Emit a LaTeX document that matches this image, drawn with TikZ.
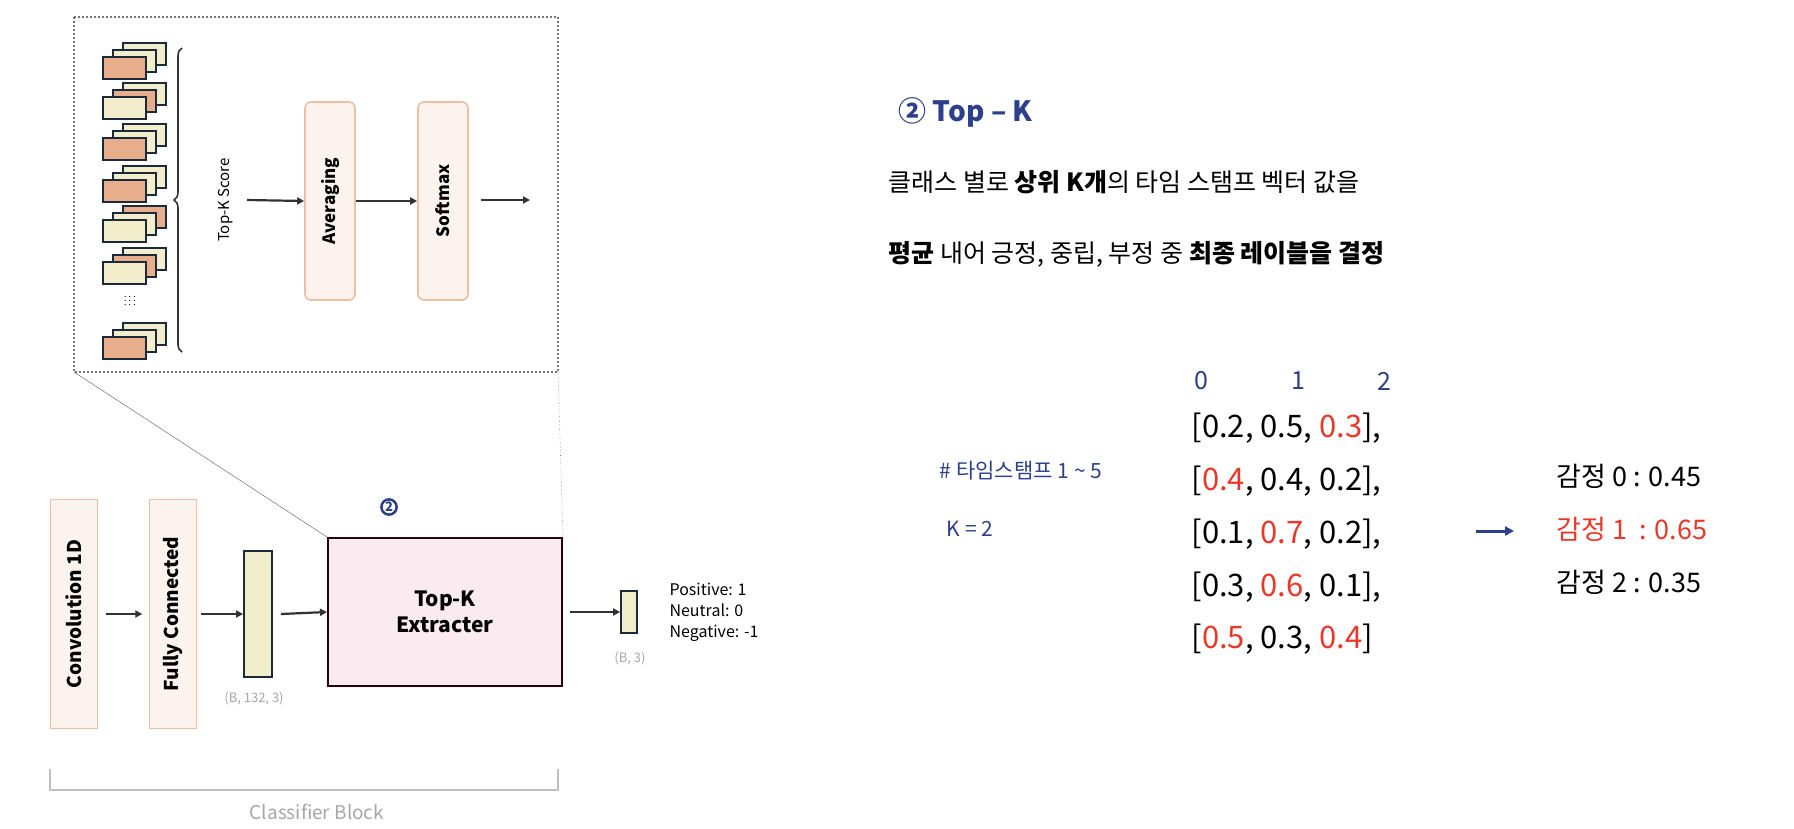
\documentclass[tikz,border=0pt]{standalone}
\usepackage{fontspec}
\setmainfont{Noto Sans CJK KR}
\usetikzlibrary{positioning, arrows.meta, decorations.pathreplacing}
\definecolor{peach}{HTML}{E8AE8C}
\definecolor{cream}{HTML}{F2EDCB}
\definecolor{ink}{HTML}{1A2A3A}
\definecolor{navy}{HTML}{2B3F8A}
\definecolor{redv}{HTML}{E8382A}
\tikzset{
  x=1pt, y=-1pt,
  arr/.style={-{Triangle[length=7pt,width=7pt]}, line width=2.2pt, draw=black!80},
  blockv/.style={draw=peach!80, line width=1.6pt, fill=peach!15, rounded corners=6pt},
  layer/.style={draw=ink, line width=1.8pt},
  dimtext/.style={text=black!35, font=\fontsize{13}{13}\selectfont},
}
\newcommand{\tstack}[4]{%
  \draw[layer, fill=#4] (123,#1-14) rectangle ++(43,22);
  \draw[layer, fill=#3] (113,#1-7) rectangle ++(43,22);
  \draw[layer, fill=#2] (103,#1) rectangle ++(43,22);
}
\begin{document}
\begin{tikzpicture}
\useasboundingbox (0,0) rectangle (1794,828);
% zoom box
\draw[line width=2pt, dotted, black!55] (74,17) rectangle (558,372);
\tstack{57}{peach}{cream}{cream}
\tstack{97}{cream}{peach}{cream}
\tstack{138}{peach}{cream}{cream}
\tstack{180}{peach}{cream}{cream}
\tstack{220}{cream}{cream}{peach}
\tstack{262}{cream}{peach}{cream}
\tstack{337}{peach}{cream}{cream}
\node[font=\small] (dots) at (130,298) {$\vdots\ \vdots\ \vdots$};
\draw[line width=1.6pt, black!80, decorate, decoration={brace, amplitude=8pt, mirror}]
  (182,48) -- (182,352);
\node[rotate=90, font=\fontsize{15}{15}\selectfont] (score) at (226,200) {Top-K Score};
\node[blockv, minimum width=50pt, minimum height=198pt] (avg) at (330,201) {};
\node[rotate=90, font=\bfseries\fontsize{17}{17}\selectfont] at (avg) {Averaging};
\node[blockv, minimum width=50pt, minimum height=198pt] (soft) at (443,201) {};
\node[rotate=90, font=\bfseries\fontsize{17}{17}\selectfont] at (soft) {Softmax};
\coordinate (sout) at (530,200);
\draw[arr] (247,200) -- (avg.west);
\draw[arr] (avg.east) -- (soft.west);
\draw[arr] (soft.east) ++(12,-1) -- (sout);

% classifier block
\node[blockv, rounded corners=0pt, minimum width=47pt, minimum height=229pt] (conv) at (74,614) {};
\node[rotate=90, font=\bfseries\fontsize{19}{19}\selectfont] at (conv) {Convolution 1D};
\node[blockv, rounded corners=0pt, minimum width=47pt, minimum height=229pt] (fc) at (173,614) {};
\node[rotate=90, font=\bfseries\fontsize{19}{19}\selectfont] at (fc) {Fully Connected};
\node[layer, fill=cream, minimum width=28pt, minimum height=126pt, inner sep=0pt] (bar) at (258,614) {};
\node[dimtext] (barlbl) at (254,698) {(B, 132, 3)};
\node[draw=black!80!purple, line width=2pt, fill=purple!8, minimum width=234pt, minimum height=148pt,
  align=center, font=\bfseries\fontsize{21}{26}\selectfont] (topk) at (445,612) {Top-K\\Extracter};
\node[circle, draw=navy, line width=2.5pt, inner sep=1pt, text=navy, font=\bfseries\fontsize{13}{13}\selectfont] (num) at (389,507) {2};
\node[layer, fill=cream, minimum width=16pt, minimum height=42pt, inner sep=0pt] (out) at (629,612) {};
\node[dimtext] (outlbl) at (630,658) {(B, 3)};
\node[anchor=west, align=left, font=\fontsize{16}{21}\selectfont] (cls) at (666,612) {Positive: 1\\Neutral: 0\\Negative: -1};
\draw[arr] (conv.east) ++(8,0) -- ++(36,0);
\draw[arr] (fc.east) ++(4,0) -- (bar.west);
\draw[arr] (bar.east) ++(8,0) -- (topk.west);
\draw[arr] (topk.east) ++(7,0) -- (out.west);
\draw[black!50, line width=0.6pt] (74,372) -- (topk.north west);
\draw[black!50, line width=0.6pt, dotted] (558,372) -- (topk.north east);
\draw[black!25, line width=1.6pt] (50,769) -- (50,790) -- (558,790) -- (558,769);
\node[text=black!35, font=\fontsize{19}{19}\selectfont] (clsblk) at (317,812) {Classifier Block};

% right text
\node[anchor=west, text=navy, font=\bfseries\fontsize{28}{28}\selectfont] (title) at (895,112) {②\ Top – K};
\node[anchor=west, font=\fontsize{25}{25}\selectfont] (line1) at (885,182)
  {클래스 별로 {\bfseries 상위 K개}의 타임 스탬프 벡터 값을};
\node[anchor=west, font=\fontsize{25}{25}\selectfont] (line2) at (885,254)
  {{\bfseries 평균} 내어 긍정, 중립, 부정 중 {\bfseries 최종 레이블을 결정}};
\foreach \c/\x in {0/1201,1/1298,2/1384}
  \node[text=navy, font=\fontsize{25}{25}\selectfont] (col\c) at (\x,381) {\c};
\node[anchor=west, align=left, font=\fontsize{31}{52.7}\selectfont] (mat) at (1188,534) {%
  {[}0.2, 0.5, \textcolor{redv}{0.3}],\\
  {[}\textcolor{redv}{0.4}, 0.4, 0.2],\\
  {[}0.1, \textcolor{redv}{0.7}, 0.2],\\
  {[}0.3, \textcolor{redv}{0.6}, 0.1],\\
  {[}\textcolor{redv}{0.5}, 0.3, \textcolor{redv}{0.4}]};
\node[text=navy, font=\fontsize{21}{21}\selectfont] (ts) at (1021,471) {\# 타임스탬프 1 \textasciitilde{} 5};
\node[text=navy, font=\fontsize{21}{21}\selectfont] (kk) at (970,529) {K = 2};
\node[anchor=west, align=left, font=\fontsize{27}{53}\selectfont] (res) at (1553,529) {%
  감정 0 : 0.45\\
  \textcolor{redv}{감정 1 \ : 0.65}\\
  감정 2 : 0.35};
\draw[-{Triangle[length=9pt,width=9pt]}, line width=3pt, navy] (1476,531) -- (1514,531);
\end{tikzpicture}
\end{document}
